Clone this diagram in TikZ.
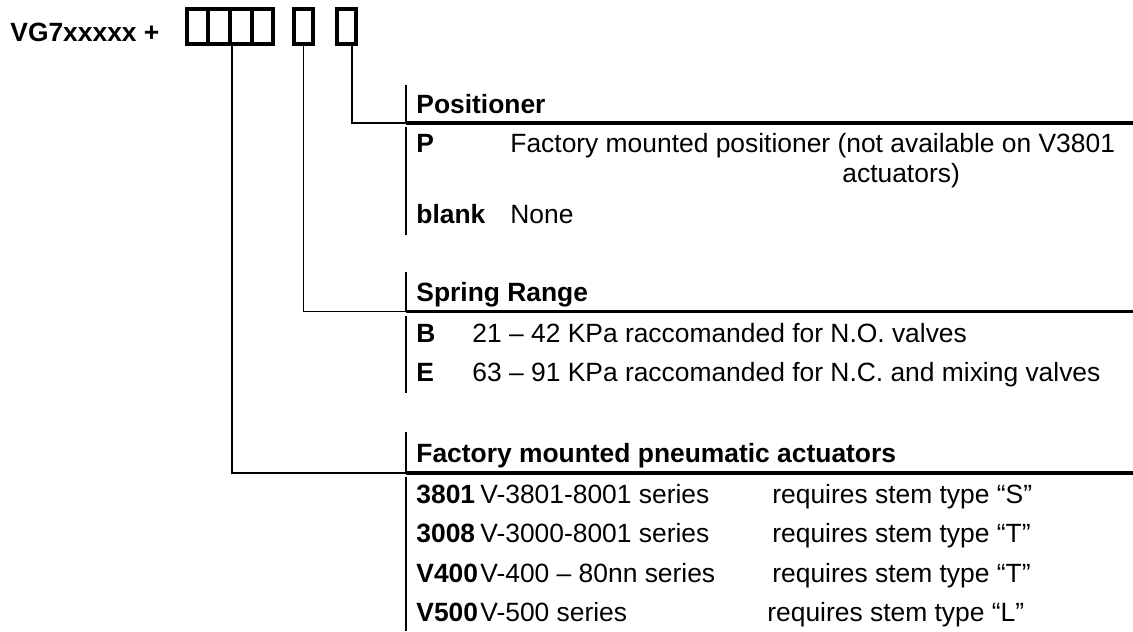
\documentclass[tikz,border=0pt]{standalone}
\usepackage{fontspec}
\setmainfont{Liberation Sans}
\begin{document}
\begin{tikzpicture}[x=0.5pt,y=-0.5pt,
  txt/.style={anchor=base west,inner sep=0pt,font=\fontsize{13.2}{15}\selectfont},
  btxt/.style={anchor=base west,inner sep=0pt,font=\fontsize{13.2}{15}\selectfont\bfseries},
  digit/.style={draw,line width=2pt,minimum height=17.5pt,inner sep=0pt},
  conn/.style={line width=0.75pt},
  bar/.style={line width=0.85pt},
  uline/.style={line width=1.85pt}]
\useasboundingbox (0,0) rectangle (1133,631);

% title and code boxes
\node[btxt] (title) at (10,42) {VG7xxxxx +};
\node[digit,minimum width=10.8pt] (g1) at (197.5,26.2) {};
\node[digit,minimum width=10.8pt] (g2) at (219.1,26.2) {};
\node[digit,minimum width=10.8pt] (g3) at (240.7,26.2) {};
\node[digit,minimum width=10.8pt] (g4) at (262.3,26.2) {};
\node[digit,minimum width=9.5pt] (s1) at (303.7,26.2) {};
\node[digit,minimum width=9.5pt] (s2) at (346,26.2) {};

% junction coordinates on the section bars
\coordinate (j1) at (406,123);
\coordinate (j2) at (406,311.5);
\coordinate (j3) at (406,473);
\coordinate (e1) at (1133,123);
\coordinate (e2) at (1133,311.5);
\coordinate (e3) at (1133,473);
\coordinate (t1) at (406,85);
\coordinate (b1a) at (406,127);
\coordinate (b1b) at (406,235);
\coordinate (t2) at (406,272);
\coordinate (b2a) at (406,315.5);
\coordinate (b2b) at (406,393);
\coordinate (t3) at (406,432);
\coordinate (b3a) at (406,477);
\coordinate (b3b) at (406,631);

% connectors
\draw[conn] ([xshift=3pt]s2.south) |- (j1);
\draw[conn] (s1.south) |- (j2);
\draw[conn] (g2.south east) |- (j3);

% section bars and underlines
\draw[bar] (t1) -- (j1);
\draw[bar] (b1a) -- (b1b);
\draw[uline] (j1) -- (e1);
\draw[bar] (t2) -- (j2);
\draw[bar] (b2a) -- (b2b);
\draw[uline] (j2) -- (e2);
\draw[bar] (t3) -- (j3);
\draw[bar] (b3a) -- (b3b);
\draw[uline] (j3) -- (e3);

% Positioner
\node[btxt] (h1) at (416,113) {Positioner};
\node[btxt] (p) at (416,152) {P};
\node[txt] (pd) at (510,152) {Factory mounted positioner (not available on V3801};
\node[txt] (pd2) at (842,182) {actuators)};
\node[btxt] (bl) at (416,223) {blank};
\node[txt] (bld) at (510,223) {None};

% Spring range
\node[btxt] (h2) at (416,301) {Spring Range};
\node[btxt] (rb) at (416,342) {B};
\node[txt] (rbd) at (472,342) {21 – 42 KPa raccomanded for N.O. valves};
\node[btxt] (re) at (416,381) {E};
\node[txt] (red) at (472,381) {63 – 91 KPa raccomanded for N.C. and mixing valves};

% Actuators
\node[btxt] (h3) at (416,462) {Factory mounted pneumatic actuators};
\node[btxt] (a1) at (416,503) {3801};
\node[txt] (a1d) at (480,503) {V-3801-8001 series};
\node[txt] (a1r) at (772,503) {requires stem type “S”};
\node[btxt] (a2) at (416,542.5) {3008};
\node[txt] (a2d) at (480,542.5) {V-3000-8001 series};
\node[txt] (a2r) at (772,542.5) {requires stem type “T”};
\node[btxt] (a3) at (416,582) {V400};
\node[txt] (a3d) at (480,582) {V-400 – 80nn series};
\node[txt] (a3r) at (772,582) {requires stem type “T”};
\node[btxt] (a4) at (416,621.5) {V500};
\node[txt] (a4d) at (480,621.5) {V-500 series};
\node[txt] (a4r) at (767,621.5) {requires stem type “L”};
\end{tikzpicture}
\end{document}
